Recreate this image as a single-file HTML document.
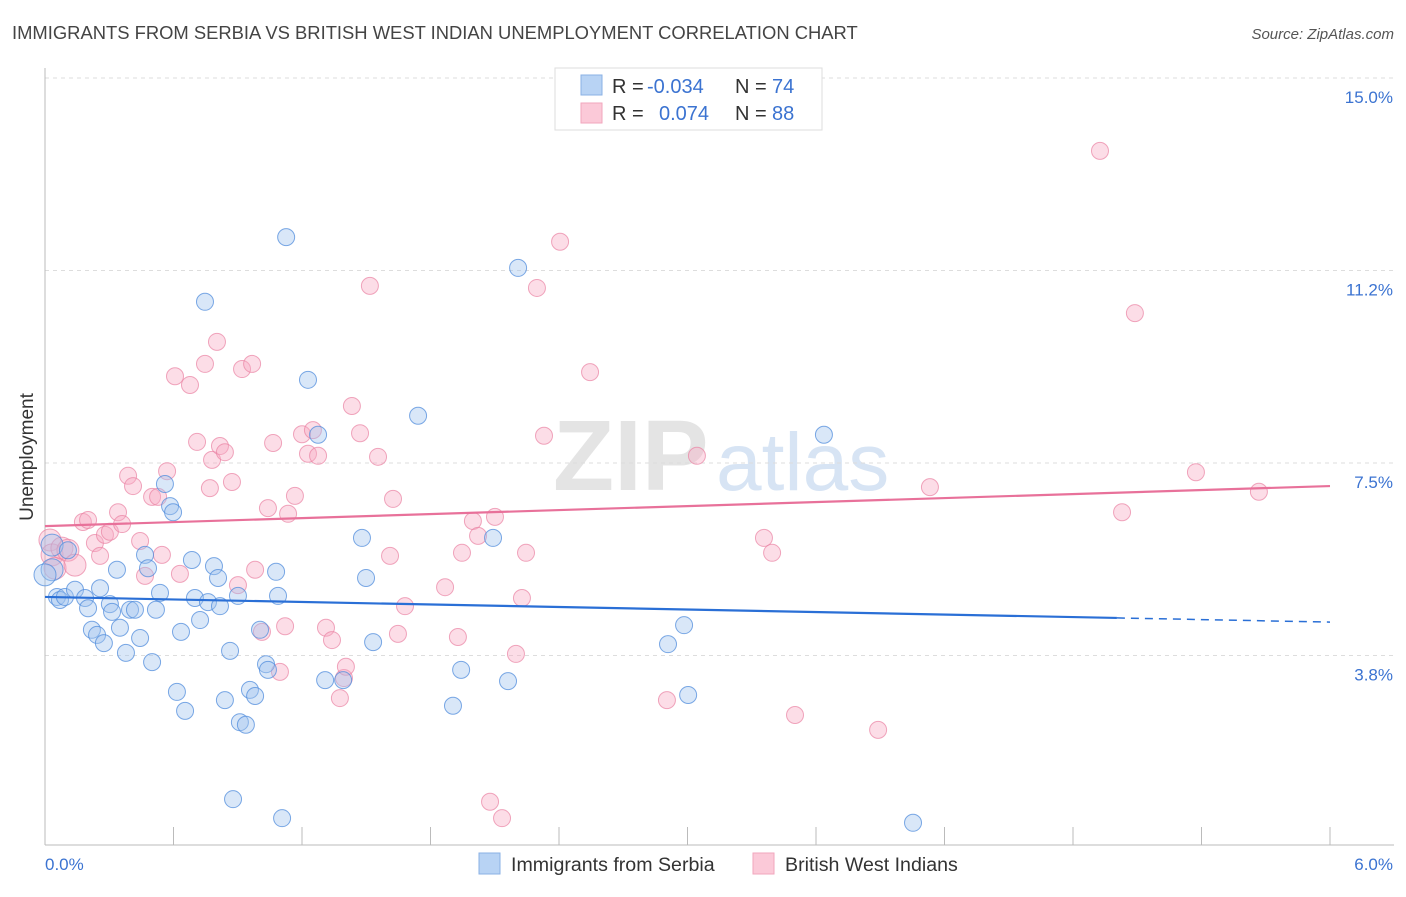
<!DOCTYPE html>
<html><head><meta charset="utf-8"><style>
body{margin:0;background:#fff;font-family:"Liberation Sans",sans-serif;}
svg text{font-family:"Liberation Sans",sans-serif;}
</style></head><body>
<svg id="chart" width="1406" height="892" viewBox="0 0 1406 892" xmlns="http://www.w3.org/2000/svg">
<text x="12" y="39" font-size="18.4" fill="#444">IMMIGRANTS FROM SERBIA VS BRITISH WEST INDIAN UNEMPLOYMENT CORRELATION CHART</text>
<text x="1394" y="39" font-size="15" fill="#555" text-anchor="end" font-style="italic">Source: ZipAtlas.com</text>
<g>
<text x="553" y="490" font-size="100" font-family="Liberation Serif" fill="#e4e4e4" font-weight="bold">ZIP</text>
<text x="716" y="490" font-size="82" fill="#d7e4f4">atlas</text>
</g>
<g id="grid"></g>
<g id="axes"></g>
<g id="pts"></g>
<g id="lines"></g>
<g>
<rect x="555" y="68" width="267" height="62" fill="#fff" stroke="#ddd"/>
<rect x="581" y="75" width="21" height="20" fill="#b8d3f4" stroke="#8ab0e4"/>
<rect x="581" y="103" width="21" height="20" fill="#fbc9d8" stroke="#f2a6bd"/>
<text x="612" y="93" font-size="20" fill="#333">R =</text>
<text x="647" y="93" font-size="20" fill="#3b73d1">-0.034</text>
<text x="735" y="93" font-size="20" fill="#333">N =</text>
<text x="772" y="93" font-size="20" fill="#3b73d1">74</text>
<text x="612" y="120" font-size="20" fill="#333">R =</text>
<text x="659" y="120" font-size="20" fill="#3b73d1">0.074</text>
<text x="735" y="120" font-size="20" fill="#333">N =</text>
<text x="772" y="120" font-size="20" fill="#3b73d1">88</text>
</g>
<g>
<rect x="479" y="853" width="21" height="21" fill="#b8d3f4" stroke="#8ab0e4"/>
<text x="511" y="871" font-size="19.6" fill="#333">Immigrants from Serbia</text>
<rect x="753" y="853" width="21" height="21" fill="#fbc9d8" stroke="#f2a6bd"/>
<text x="785" y="871" font-size="19.6" fill="#333">British West Indians</text>
</g>
<text transform="translate(33,457) rotate(-90)" font-size="19" fill="#333" text-anchor="middle">Unemployment</text>
</svg>
<script>
const yTicks=[15,11.25,7.5,3.75];
const yTickLabels=["15.0%","11.2%","7.5%","3.8%"];
const xTicks=[0,0.6,1.2,1.8,2.4,3.0,3.6,4.2,4.8,5.4,6.0];
const xTickLabels=["0.0%","6.0%"];
const blueX=[0.033,0.033,0.056,0.070,0.093,0.107,0.14,0.187,0.201,0.219,0.243,0.257,0.275,0.303,0.313,0.336,0.35,0.378,0.397,0.42,0.444,0.467,0.481,0.5,0.518,0.537,0.56,0.584,0.598,0.616,0.635,0.654,0.686,0.70,0.724,0.747,0.761,0.789,0.808,0.817,0.84,0.864,0.878,0.901,0.91,0.938,0.957,0.981,1.004,1.032,1.041,1.079,1.088,1.107,1.126,1.228,1.275,1.308,1.392,1.48,1.499,1.532,1.742,1.905,1.943,2.092,2.162,2.209,2.909,2.984,3.003,3.637,4.053,0.0];
const blueY=[5.90,5.42,4.89,4.83,4.89,5.80,5.03,4.87,4.67,4.25,4.15,5.06,3.99,4.75,4.60,5.42,4.29,3.80,4.64,4.64,4.09,5.71,5.45,3.62,4.64,4.97,7.09,6.66,6.54,3.04,4.21,2.67,5.61,4.87,4.44,10.64,4.79,5.49,5.26,4.71,2.88,3.84,0.95,4.91,2.45,2.40,3.08,2.96,4.25,3.58,3.47,5.38,4.91,0.58,11.90,9.12,8.05,3.27,3.27,6.04,5.26,4.01,8.42,2.77,3.47,6.04,3.25,11.30,3.97,4.34,2.98,8.05,0.49,5.32];
const pinkX=[0.023,0.033,0.047,0.079,0.107,0.14,0.177,0.201,0.233,0.257,0.28,0.303,0.341,0.36,0.388,0.411,0.444,0.467,0.5,0.528,0.546,0.57,0.607,0.63,0.677,0.71,0.747,0.77,0.78,0.803,0.817,0.84,0.873,0.901,0.92,0.967,0.981,1.013,1.041,1.065,1.097,1.121,1.135,1.167,1.2,1.228,1.251,1.275,1.312,1.34,1.377,1.396,1.405,1.433,1.471,1.517,1.555,1.611,1.625,1.648,1.681,1.868,1.928,1.947,1.998,2.022,2.078,2.101,2.134,2.199,2.227,2.246,2.297,2.33,2.405,2.545,2.904,3.044,3.357,3.395,3.502,3.89,4.132,4.926,5.029,5.089,5.374,5.668];
const pinkY=[6.00,5.71,5.45,5.84,5.80,5.51,6.35,6.39,5.94,5.69,6.10,6.16,6.54,6.31,7.25,7.05,5.98,5.30,6.84,6.84,5.71,7.34,9.19,5.34,9.02,7.91,9.43,7.01,7.56,9.86,7.83,7.71,7.13,5.12,9.33,9.43,5.42,4.21,6.62,7.89,3.43,4.32,6.51,6.86,8.06,7.68,8.14,7.64,4.29,4.05,2.92,3.31,3.53,8.61,8.08,10.95,7.62,5.69,6.80,4.17,4.71,5.08,4.11,5.75,6.37,6.08,0.90,6.45,0.58,3.78,4.87,5.75,10.91,8.03,11.81,9.27,2.88,7.64,6.04,5.75,2.59,2.30,7.03,13.58,6.54,10.42,7.32,6.94];
const blueTrend=[4.89,4.40];
const pinkTrend=[6.27,7.05];
const blueSolidEnd=5.005;

const NS="http://www.w3.org/2000/svg";
const X=v=>45+v*(1285/6);
const Y=v=>78+(15-v)*51.33;
function mk(tag,attrs,parent){const e=document.createElementNS(NS,tag);for(const k in attrs)e.setAttribute(k,attrs[k]);document.getElementById(parent).appendChild(e);return e;}
yTicks.forEach((t,i)=>{
  const l=mk('line',{x1:45,x2:1394,y1:Y(t),y2:Y(t),stroke:'#ddd','stroke-dasharray':'4,4'},'grid');
  
  
  const tx=mk('text',{x:1393,y:Y(t)+25,'font-size':17,fill:'#3b73d1','text-anchor':'end'},'grid');
  tx.textContent=yTickLabels[i];
  
  
});
const ax=mk('line',{x1:45,x2:45,y1:68,y2:845,stroke:'#bbb'},'axes');


const bx=mk('line',{x1:45,x2:1394,y1:845,y2:845,stroke:'#bbb'},'axes');


xTicks.forEach(t=>{
  const l=mk('line',{x1:X(t),x2:X(t),y1:827,y2:845,stroke:'#bbb'},'axes');
  
  
});
const xl0=mk('text',{x:45,y:870,'font-size':17,fill:'#3b73d1'},'axes');xl0.textContent=xTickLabels[0];


const xl1=mk('text',{x:1393,y:870,'font-size':17,fill:'#3b73d1','text-anchor':'end'},'axes');xl1.textContent=xTickLabels[1];


pinkX.forEach((x,i)=>{
  const c=mk('circle',{cx:X(x),cy:Y(pinkY[i]),r:i<6?11:8.5,fill:'rgba(248,170,195,0.4)',stroke:'rgba(234,130,163,0.7)','stroke-width':1},'pts');
  
  
});
blueX.forEach((x,i)=>{
  const c=mk('circle',{cx:X(x),cy:Y(blueY[i]),r:(i<2||i==73)?11:8.5,fill:'rgba(160,196,238,0.4)',stroke:'rgba(80,140,220,0.75)','stroke-width':1},'pts');
  
  
});
const bs=(blueTrend[1]-blueTrend[0])/6;
const bl=mk('line',{x1:X(0),y1:Y(blueTrend[0]),x2:X(blueSolidEnd),y2:Y(blueTrend[0]+bs*blueSolidEnd),stroke:'#2a6fd6','stroke-width':2.2},'lines');


const bd=mk('line',{x1:X(blueSolidEnd),y1:Y(blueTrend[0]+bs*blueSolidEnd),x2:X(6),y2:Y(blueTrend[1]),stroke:'#2a6fd6','stroke-width':1.5,'stroke-dasharray':'8,6'},'lines');


const pl=mk('line',{x1:X(0),y1:Y(pinkTrend[0]),x2:X(6),y2:Y(pinkTrend[1]),stroke:'#e8719a','stroke-width':2.2},'lines');


</script>
</body></html>
